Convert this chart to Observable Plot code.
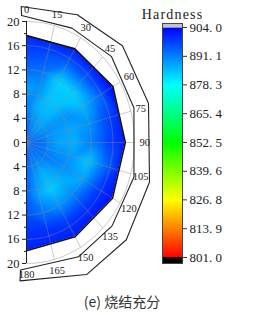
<!DOCTYPE html>
<html><head><meta charset="utf-8">
<script src="https://cdn.jsdelivr.net/npm/d3@7"></script>
<script src="https://cdn.jsdelivr.net/npm/@observablehq/plot@0.6"></script>
<style>
html,body{margin:0;padding:0;background:#fff;}
#wrap{position:relative;width:278px;height:315px;overflow:hidden;background:#fff;}
#polar{position:absolute;left:0;top:0;}
#bar{position:absolute;left:140px;top:0;}
#cap{position:absolute;left:0;top:292px;width:244px;text-align:center;font:14px "Noto Sans CJK SC",sans-serif;color:#333;line-height:18px;}
.cbar g[aria-label="text"] text{letter-spacing:1.2px;}
</style></head><body>
<div id="wrap"><div id="polar"></div><div id="bar"></div><div id="cap">(e) 烧结充分</div></div>
<script>
// ---- data: hardness sampled on a polar grid (angle in degrees, radius) ----
const angles = [0, 15, 30, 45, 60, 75, 90, 105, 120, 135, 150, 165, 180];
const radii = [3, 6, 9, 12, 15, 18];
const centerHardness = 894;
const ring3  = [894, 891, 888, 888, 890, 891, 893, 892, 892, 892, 891, 892, 894];
const ring6  = [891, 887, 885, 886, 889, 888, 887, 889, 891, 888, 886, 889, 894];
const ring9  = [888, 889, 884, 884, 889, 887, 886, 888, 889, 886, 883, 887, 894];
const ring12 = [893, 892, 883, 883, 885, 889, 891, 884, 887, 890, 889, 892, 896];
const ring15 = [897, 896, 894, 894, 892, 896, 897, 893, 897, 898, 898, 899, 899];
const ring18 = [900, 901, 901, 902, 902, 901, 901, 901, 902, 902, 901, 901, 901];
const rings = [ring3, ring6, ring9, ring12, ring15, ring18];

// sample boundary (outline of measured region)
const outlineAngles = [0, 30, 60, 90, 120, 150, 180];
const outlineR = [17.7, 17.9, 18.5, 18.3, 18.4, 18.0, 17.9];

// angular frame band
const frameAngles = [-2.5, 24, 48, 74, 106, 131, 153, 183];
const frameInnerR = [21, 20.7, 21.2, 20.7, 20.7, 21, 21.2, 21.1];
const frameOuterR = [22.5, 23.1, 23.9, 23.5, 23.7, 24.5, 24.5, 22.9];

const angleLabels = [0, 15, 30, 45, 60, 75, 90, 105, 120, 135, 150, 165, 180];
const gridRadii = [4, 8, 12, 16, 20];
const radialTicks = [-20, -16, -12, -8, -4, 0, 4, 8, 12, 16, 20];
const radialMinor = [-18, -14, -10, -6, -2, 2, 6, 10, 14, 18];

// colour bar
const cbTicks = [801.0, 813.9, 826.8, 839.6, 852.5, 865.4, 878.3, 891.1, 904.0];
const cbColors = ["#ff0000", "#ff8000", "#ffff00", "#80ff00", "#00ff00", "#00ff80", "#00ffff", "#0080ff", "#0000ff"];

// ---- helpers ----
const rad = a => a * Math.PI / 180;
const px = (a, r) => r * Math.sin(rad(a));
const py = (a, r) => r * Math.cos(rad(a));

const heat = [{x: 0, y: 0, v: centerHardness}];
rings.forEach((ring, i) => ring.forEach((v, j) => heat.push({x: px(angles[j], radii[i]), y: py(angles[j], radii[i]), v})));

const outline = outlineAngles.map((a, i) => ({a, x: px(a, outlineR[i]), y: py(a, outlineR[i])}));
const xMax = d3.max(outline, d => d.x);
const upper = outline.filter(d => d.a <= 90).sort((p, q) => p.x - q.x);
const lower = outline.filter(d => d.a >= 90).sort((p, q) => p.x - q.x);
upper.push({x: xMax + 1, y: 0});
lower.push({x: xMax + 1, y: 0});

const band = [
  ...frameAngles.map((a, i) => ({x: px(a, frameInnerR[i]), y: py(a, frameInnerR[i])})),
  ...frameAngles.map((a, i) => ({x: px(a, frameOuterR[i]), y: py(a, frameOuterR[i])})).reverse()
];
band.push(band[0]);

const circles = [];
gridRadii.forEach(r => { for (let a = 0; a <= 180; a += 3) circles.push({r, x: px(a, r), y: py(a, r)}); });

const colorOpt = {type: "linear", domain: cbTicks, range: cbColors, clamp: true};
const font = "'Liberation Serif', 'DejaVu Serif', serif";

const polar = Plot.plot({
  width: 160, height: 290,
  marginLeft: 26, marginRight: 0, marginTop: 0, marginBottom: 0,
  x: {domain: [0, 134 / 5.4], axis: null},
  y: {domain: [-148 / 6.05, 142 / 6.05], axis: null},
  color: colorOpt,
  style: {fontFamily: font, fontSize: "12px", background: "transparent", color: "#222", overflow: "visible"},
  marks: [
    Plot.raster(heat, {x: "x", y: "y", fill: "v", interpolate: "barycentric", blur: 1,
      x1: 0, x2: xMax, y1: -18.1, y2: 17.9}),
    Plot.areaY(upper, {x: "x", y1: "y", y2: 18.6, fill: "white"}),
    Plot.areaY(lower, {x: "x", y1: "y", y2: -18.6, fill: "white"}),
    Plot.line(circles, {x: "x", y: "y", z: "r", stroke: "#888", strokeWidth: 0.6, strokeOpacity: 0.75}),
    Plot.link(angleLabels, {x1: 0, y1: 0, x2: a => px(a, 20), y2: a => py(a, 20), stroke: "#888", strokeWidth: 0.6, strokeOpacity: 0.75}),
    Plot.line(outline, {x: "x", y: "y", stroke: "#111", strokeWidth: 1.5}),
    Plot.line(band, {x: "x", y: "y", stroke: "#222", strokeWidth: 1.1}),
    Plot.text(angleLabels, {x: a => px(a, 21.9), y: a => py(a, 21.9), text: a => String(a), fontSize: 10.5, fill: "#222"}),
    Plot.ruleX([0], {y1: -20, y2: 20, stroke: "#222", strokeWidth: 1}),
    Plot.axisY(radialTicks, {anchor: "left", tickSize: 4, tickPadding: 3, tickFormat: d => String(Math.abs(d)), fontSize: 12.5, label: null, stroke: "#222", fill: "#222"}),
    Plot.axisY(radialMinor, {anchor: "left", tickSize: 2, tickFormat: () => "", label: null, stroke: "#222"})
  ]
});
document.getElementById("polar").appendChild(polar);

const bar = Plot.plot({
  className: "cbar",
  width: 138, height: 290,
  marginLeft: 22, marginRight: 96, marginTop: 23, marginBottom: 27,
  x: {domain: [0, 1], axis: null},
  y: {domain: [798.3, 905.8], axis: null},
  color: colorOpt,
  style: {fontFamily: font, fontSize: "12px", background: "transparent", color: "#222", overflow: "visible"},
  marks: [
    Plot.raster({fill: (x, y) => y, x1: 0, x2: 1, y1: cbTicks[0], y2: cbTicks[cbTicks.length - 1]}),
    Plot.rect([0], {x1: 0, x2: 1, y1: 904, y2: 905.8, fill: "#c4c4c4"}),
    Plot.rect([0], {x1: 0, x2: 1, y1: 798.3, y2: 801, fill: "#000"}),
    Plot.frame({stroke: "#444", strokeWidth: 1}),
    Plot.axisY(cbTicks, {anchor: "right", tickSize: 4, tickPadding: 3, tickFormat: d => d.toFixed(1).replace(".", ". "), fontSize: 13, label: null, stroke: "#333", fill: "#222"}),
    Plot.text(["Hardness"], {x: 0.5, frameAnchor: "top", dy: -14, text: d => d, fontSize: 14, fill: "#222"})
  ]
});
document.getElementById("bar").appendChild(bar);
</script>
</body></html>
